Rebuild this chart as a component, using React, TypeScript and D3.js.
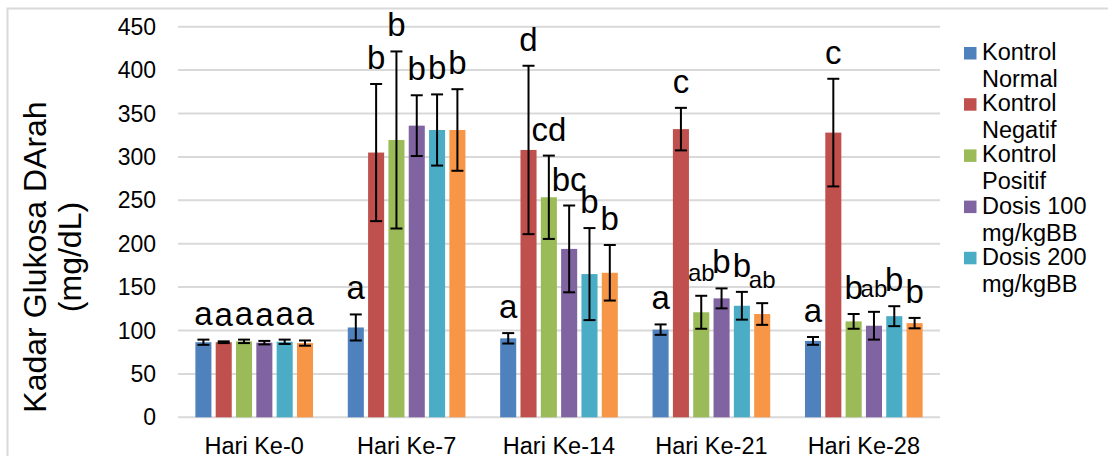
import React, { useEffect, useRef } from 'react'
import * as d3 from 'd3'

// chart data
const categories = ['Hari Ke-0', 'Hari Ke-7', 'Hari Ke-14', 'Hari Ke-21', 'Hari Ke-28']
const seriesNames = [
  ['Kontrol', 'Normal'],
  ['Kontrol', 'Negatif'],
  ['Kontrol', 'Positif'],
  ['Dosis 100', 'mg/kgBB'],
  ['Dosis 200', 'mg/kgBB'],
  ['Dosis 400', 'mg/kgBB'],
]
const seriesColors = ['#4f81bd', '#c0504d', '#9bbb59', '#8064a2', '#4bacc6', '#f79646']

// one row per category, one value per series
const means = [
  [86.5, 86.5, 87.5, 86, 87, 85.5],
  [103.5, 305, 319.5, 336, 331, 331],
  [91, 308, 253.5, 194, 165, 166.5],
  [101, 332, 121, 137, 128.5, 119],
  [88, 328, 110.5, 105.5, 116.5, 108.5],
]
const errors = [
  [3, 1, 2, 2, 2.5, 3],
  [15, 79, 102, 35, 41, 47],
  [6, 97, 48, 50, 53, 32],
  [6, 24.5, 19, 11.5, 16, 12.5],
  [4.5, 62, 8.5, 16, 11.5, 6],
]
const notations = [
  ['a', 'a', 'a', 'a', 'a', 'a'],
  ['a', 'b', 'b', 'b', 'b', 'b'],
  ['a', 'd', 'cd', 'bc', 'b', 'b'],
  ['a', 'c', 'ab', 'b', 'b', 'ab'],
  ['a', 'c', 'b', 'ab', 'b', 'b'],
]
const yTicks = [0, 50, 100, 150, 200, 250, 300, 350, 400, 450]

const FONT = '"Liberation Sans", Arial, sans-serif'

export default function App() {
  const ref = useRef<SVGSVGElement>(null)

  useEffect(() => {
    document.body.style.margin = '0'
    const svg = d3.select(ref.current)
    svg.selectAll('*').remove()

    const width = 1108, height = 456
    const plot = { left: 178, right: 940, top: 26.7, bottom: 417.3 }

    svg.attr('width', width).attr('height', height).style('font-family', FONT)

    // outer chart border (only top and left visible)
    svg.append('path')
      .attr('d', `M7.5,${height}V8.5H${width}`)
      .attr('fill', 'none')
      .attr('stroke', '#d9d9d9')
      .attr('stroke-width', 2)

    const x0 = d3.scaleBand<string>()
      .domain(categories)
      .range([plot.left, plot.right])
    const x1 = d3.scaleBand<number>()
      .domain(d3.range(seriesNames.length))
      .range([0, x0.bandwidth()])
      .paddingInner(0.21)
      .paddingOuter(0.855)
    const y = d3.scaleLinear().domain([0, 450]).range([plot.bottom, plot.top])

    // gridlines + tick labels
    const grid = svg.append('g')
    grid.selectAll('line')
      .data(yTicks)
      .enter().append('line')
      .attr('x1', plot.left)
      .attr('x2', plot.right)
      .attr('y1', d => y(d))
      .attr('y2', d => y(d))
      .attr('stroke', '#d9d9d9')
      .attr('stroke-width', 2)
    grid.selectAll('text')
      .data(yTicks)
      .enter().append('text')
      .attr('x', 156)
      .attr('y', d => y(d))
      .attr('dy', '0.35em')
      .attr('text-anchor', 'end')
      .attr('font-size', 23)
      .attr('fill', '#000')
      .text(d => d)

    // x labels (the bottom of the chart is cropped in the original)
    svg.append('g').selectAll('text')
      .data(categories)
      .enter().append('text')
      .attr('x', d => x0(d)! + x0.bandwidth() / 2)
      .attr('y', 454)
      .attr('text-anchor', 'middle')
      .attr('font-size', 23.5)
      .text(d => d)

    // y title
    const title = svg.append('text')
      .attr('transform', 'translate(46,257) rotate(-90)')
      .attr('text-anchor', 'middle')
      .attr('font-size', 32)
    title.append('tspan').attr('x', 0).attr('y', 0).text('Kadar Glukosa DArah')
    title.append('tspan').attr('x', 0).attr('y', 35).text('(mg/dL)')

    // bars, error bars and notation letters
    const groups = svg.append('g').selectAll('g')
      .data(categories)
      .enter().append('g')
      .attr('transform', d => `translate(${x0(d)},0)`)

    groups.each(function (cat, ci) {
      const g = d3.select(this)
      const rows = means[ci].map((v, si) => ({ v, e: errors[ci][si], n: notations[ci][si], si }))

      g.selectAll('rect')
        .data(rows)
        .enter().append('rect')
        .attr('x', d => x1(d.si)!)
        .attr('width', x1.bandwidth())
        .attr('y', d => y(d.v))
        .attr('height', d => y(0) - y(d.v))
        .attr('fill', d => seriesColors[d.si])

      const cap = 6
      const eb = g.selectAll('g.err')
        .data(rows)
        .enter().append('g')
        .attr('class', 'err')
        .attr('stroke', '#000')
        .attr('stroke-width', 2)
      eb.append('line')
        .attr('x1', d => x1(d.si)! + x1.bandwidth() / 2)
        .attr('x2', d => x1(d.si)! + x1.bandwidth() / 2)
        .attr('y1', d => y(d.v + d.e))
        .attr('y2', d => y(d.v - d.e))
      eb.append('line')
        .attr('x1', d => x1(d.si)! + x1.bandwidth() / 2 - cap)
        .attr('x2', d => x1(d.si)! + x1.bandwidth() / 2 + cap)
        .attr('y1', d => y(d.v + d.e))
        .attr('y2', d => y(d.v + d.e))
      eb.append('line')
        .attr('x1', d => x1(d.si)! + x1.bandwidth() / 2 - cap)
        .attr('x2', d => x1(d.si)! + x1.bandwidth() / 2 + cap)
        .attr('y1', d => y(d.v - d.e))
        .attr('y2', d => y(d.v - d.e))

      g.selectAll('text')
        .data(rows)
        .enter().append('text')
        .attr('x', d => x1(d.si)! + x1.bandwidth() / 2)
        .attr('y', d => y(d.v + d.e) - 15)
        .attr('text-anchor', 'middle')
        .attr('font-size', d => (d.n === 'ab' ? 24 : 33))
        .text(d => d.n)
    })

    // legend - the last entry is clipped off in the original, so only 5 show
    const legend = svg.append('g').attr('font-size', 23.5)
    const shown = seriesNames.slice(0, 5)
    shown.forEach((lines, i) => {
      const base = 60 + i * 51.2
      legend.append('rect')
        .attr('x', 964)
        .attr('y', base - 13)
        .attr('width', 12.5)
        .attr('height', 12.5)
        .attr('fill', seriesColors[i])
      lines.forEach((t, li) => {
        legend.append('text')
          .attr('x', 982)
          .attr('y', base + li * 27)
          .text(t)
      })
    })
  }, [])

  return <svg ref={ref} style={{ display: 'block' }} />
}
